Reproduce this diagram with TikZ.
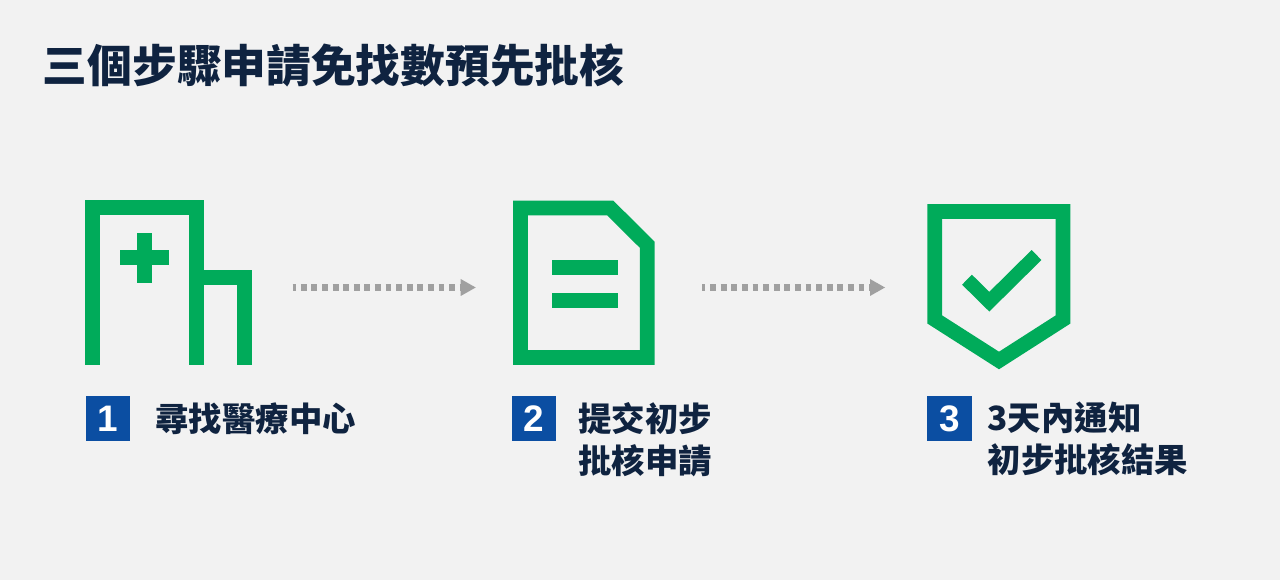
\documentclass[tikz,border=0pt]{standalone}
\usepackage{fontspec}
\setmainfont{Liberation Sans}
\newfontfamily\cjk{Noto Sans CJK TC}
\usetikzlibrary{arrows.meta}

\definecolor{pagebg}{HTML}{F2F2F2}
\definecolor{icongreen}{HTML}{00AB5A}
\definecolor{badgeblue}{HTML}{0B4EA2}
\definecolor{inknavy}{HTML}{0F2340}
\definecolor{dotgray}{HTML}{A0A0A0}

\tikzset{
	iconline/.style={draw=icongreen, line width=.296cm, miter limit=10},
	dotline/.style={draw=dotgray, line width=.14cm, dash pattern=on .118cm off .094cm, dash phase=.05cm, -{Triangle[length=.3cm,width=.34cm,line width=0pt,fill=dotgray]}},
	badge/.style={fill=badgeblue, text=white, minimum size=.89cm, inner sep=0pt, font=\fontsize{21}{21}\selectfont\bfseries},
	steptext/.style={anchor=north west, inner sep=0pt, align=left, text=inknavy, font=\cjk\fontsize{19}{23.8}\selectfont\bfseries},
}

\begin{document}
\begin{tikzpicture}

	\fill[pagebg] (0,0) rectangle (25.6,11.6);
	\useasboundingbox (0,0) rectangle (25.6,11.6);

	\node (T1)[anchor=west, inner sep=0pt, text=inknavy, font=\cjk\fontsize{25.45}{30}\selectfont\bfseries] at (.85,10.3) {三個步驟申請免找數預先批核};

	% hospital
	\draw[iconline] (1.856,4.306) |- (3.926,7.444) -- (3.926,4.306);
	\draw[iconline] (3.926,6.052) -- (4.896,6.052) -- (4.896,4.306);
	\draw[iconline] (2.884,6.934) -- (2.884,5.946);
	\draw[iconline] (2.4,6.444) -- (3.38,6.444);

	% form
	\draw[iconline] (10.408,7.44) -- (12.204,7.44) -- (12.946,6.704) -- (12.946,4.45) -- (10.408,4.45) -- cycle;
	\draw[iconline] (11.046,6.254) -- (12.366,6.254);
	\draw[iconline] (11.046,5.596) -- (12.366,5.596);

	% shield
	\draw[iconline] (18.696,7.37) -- (21.26,7.37) -- (21.26,5.21) -- (19.98,4.39) -- (18.696,5.21) -- cycle;
	\draw[iconline, line width=.28cm] (19.34,6.006) -- (19.786,5.566) -- (20.73,6.5);

	\coordinate (A1) at (5.854,5.85);
	\coordinate (A2) at (9.514,5.85);
	\coordinate (A3) at (14.04,5.85);
	\coordinate (A4) at (17.7,5.85);
	\draw[dotline] (A1) -- (A2);
	\draw[dotline] (A3) -- (A4);

	\node (B1)[badge] at (2.16,3.23) {1};
	\node (B2)[badge] at (10.684,3.23) {2};
	\node (B3)[badge] at (18.994,3.23) {3};

	\node (L1)[steptext] at (3.105,3.56) {尋找醫療中心};
	\node (L2)[steptext] at (11.565,3.56) {提交初步\\批核申請};
	\node (L3)[steptext] at (19.745,3.56) {3天內通知\\初步批核結果};

\end{tikzpicture}
\end{document}
